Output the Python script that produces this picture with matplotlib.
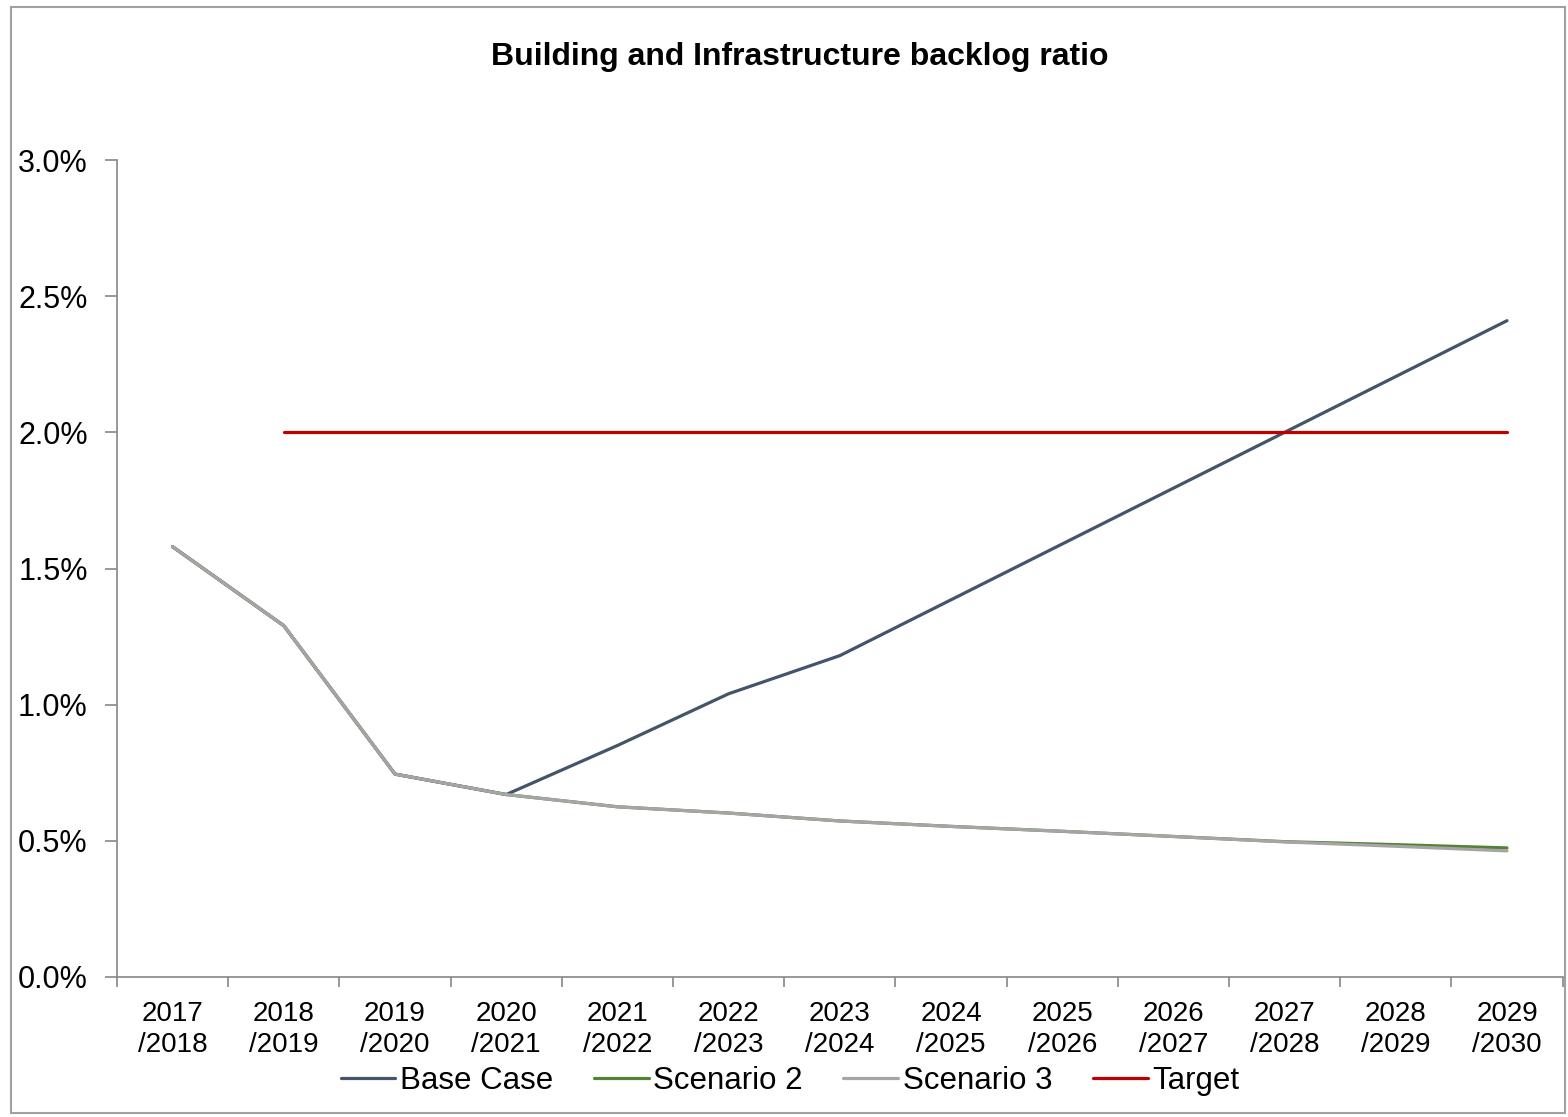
import matplotlib
matplotlib.use("Agg")
import matplotlib.pyplot as plt
import numpy as np
from matplotlib.patches import Rectangle
from matplotlib.ticker import FuncFormatter, FixedLocator

plt.rcParams["font.family"] = ["Liberation Sans", "DejaVu Sans"]

# jaren en reeksen (backlog ratio in %)
jaren = ["2017\n/2018", "2018\n/2019", "2019\n/2020", "2020\n/2021", "2021\n/2022",
         "2022\n/2023", "2023\n/2024", "2024\n/2025", "2025\n/2026", "2026\n/2027",
         "2027\n/2028", "2028\n/2029", "2029\n/2030"]
base_case = [1.58, 1.29, 0.745, 0.67, 0.85, 1.04, 1.18, 1.385, 1.59, 1.795, 2.00, 2.205, 2.41]
scenario_2 = [1.58, 1.29, 0.745, 0.67, 0.625, 0.602, 0.573, 0.553, 0.535, 0.516, 0.497, 0.486, 0.474]
scenario_3 = [1.58, 1.29, 0.745, 0.67, 0.625, 0.602, 0.573, 0.553, 0.535, 0.516, 0.496, 0.480, 0.463]
target = [np.nan, 2.0, 2.0, 2.0, 2.0, 2.0, 2.0, 2.0, 2.0, 2.0, 2.0, 2.0, 2.0]

W, H = 1568, 1117
fig = plt.figure(figsize=(W / 100, H / 100), dpi=100)
ax = fig.add_axes([117 / W, 1 - 977 / H, (1562.6 - 117) / W, (977 - 160) / H])

x = np.arange(len(jaren))
lw = 2.3
ax.plot(x, base_case, color="#44546A", lw=lw, label="Base Case", solid_capstyle="round")
ax.plot(x, scenario_2, color="#548235", lw=lw, label="Scenario 2", solid_capstyle="round")
ax.plot(x, scenario_3, color="#A5A5A5", lw=lw, label="Scenario 3", solid_capstyle="round")
ax.plot(x, target, color="#C00000", lw=lw, label="Target", solid_capstyle="round")

ax.set_xlim(-0.5, len(jaren) - 0.5)
ax.set_ylim(0, 3.0)
ax.set_yticks(np.arange(0, 3.01, 0.5))
ax.yaxis.set_major_formatter(FuncFormatter(lambda v, p: "%.1f%%" % v))

ax.set_xticks(x)
ax.set_xticklabels(jaren, linespacing=1.25)
ax.xaxis.set_minor_locator(FixedLocator(np.arange(-0.5, len(jaren), 1.0)))
ax.tick_params(axis="x", which="major", length=0, pad=17, labelsize=20)
ax.tick_params(axis="x", which="minor", length=7, width=1.2, color="#868686")
ax.tick_params(axis="y", length=9, width=1.2, color="#868686", pad=12, labelsize=22)

for s in ["top", "right"]:
    ax.spines[s].set_visible(False)
for s in ["left", "bottom"]:
    ax.spines[s].set_color("#868686")
    ax.spines[s].set_linewidth(1.2)

fig.text(800 / W, 1 - 57 / H, "Building and Infrastructure backlog ratio",
         ha="center", va="center", fontsize=23, fontweight="bold")

fig.legend(loc="center", bbox_to_anchor=(790 / W, 1 - 1081 / H), ncol=4, frameon=False,
           fontsize=22.5, handlelength=1.75, handletextpad=0.15, columnspacing=1.3)

# rand om de hele grafiek
fig.patches.append(Rectangle((11 / W, 4 / H), (1565 - 11) / W, (1110 - 4) / H,
                             transform=fig.transFigure, fill=False,
                             edgecolor="#A0A0A0", lw=1.5))

fig.savefig("out.png", dpi=100)
